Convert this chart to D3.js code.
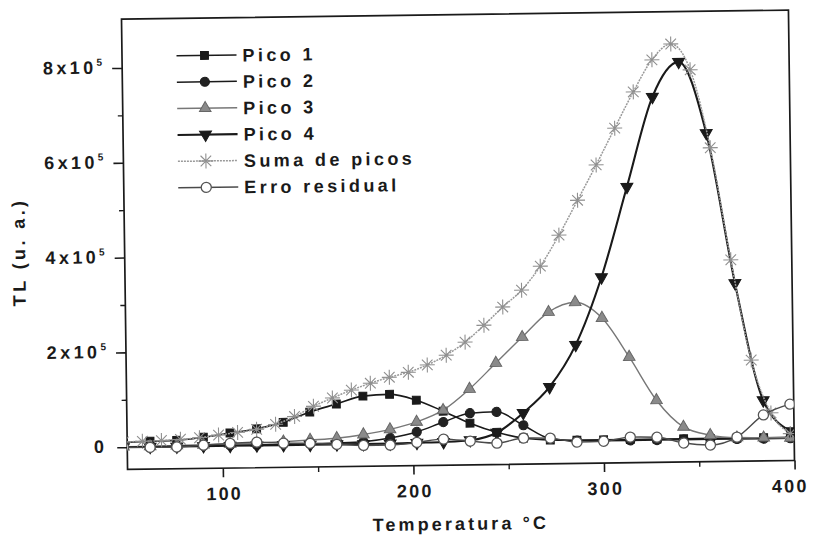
<!DOCTYPE html>
<html>
<head>
<meta charset="utf-8">
<script src="https://cdn.jsdelivr.net/npm/d3@7/dist/d3.min.js"></script>
<style>
  html, body { margin: 0; padding: 0; background: #ffffff; }
  svg { display: block; }
  text { font-family: "Liberation Sans", Arial, sans-serif; font-weight: bold; fill: #1a1a1a; }
</style>
</head>
<body>
<svg id="chart" width="814" height="536"></svg>
<script>
// ---------------- DATA ----------------
const tempPicos = [48, 62, 76, 90, 104, 118, 132, 146, 160, 174, 188, 202, 216, 230, 244, 258, 272, 286, 300, 314, 328, 342, 356, 370, 384, 398];
const pico1 = [10000, 12000, 13000, 19000, 27000, 35000, 48000, 69000, 85000, 101000, 104000, 91000, 67000, 41000, 21000, 8000, 3000, 2000, 2000, 2000, 2000, 2000, 2000, 2000, 2000, 2000];
const pico2 = [0, 0, 0, 1000, 1000, 1000, 2000, 2000, 3000, 5000, 12000, 24000, 44000, 62000, 64000, 35000, 6000, 1000, 0, 0, 0, 0, 0, 0, 0, 0];
const pico3 = [1000, 1000, 2000, 3000, 4000, 5000, 7000, 10000, 13000, 20000, 30000, 45000, 69000, 113000, 167000, 221000, 273000, 293000, 259000, 176000, 84000, 27000, 9000, 3000, 2000, 1000];
const pico4 = [0, 0, 0, 0, 0, 0, 0, 0, 0, 0, 0, 1000, 2000, 5000, 20000, 61000, 115000, 203000, 345000, 535000, 724000, 797000, 646000, 329000, 81000, 15000];
const erroResidual = [0, -1000, -1000, 2000, 5000, 7000, 4000, 3000, 0, -3000, -3000, 2000, 8000, 3000, -2000, 8000, 7000, -2000, -1000, 7000, 6000, -7000, -12000, 4000, 50000, 72000];

const tempSuma = [48, 58, 68, 78, 88, 98, 108, 118, 128, 138, 148, 158, 168, 178, 188, 198, 208, 218, 228, 238, 248, 258, 268, 278, 288, 298, 308, 318, 328, 338, 348, 358, 368, 378, 388, 398];
const somaPicos = [11000, 12000, 13000, 15000, 18000, 23000, 28000, 34000, 44000, 60000, 81000, 98000, 114000, 128000, 140000, 150000, 165000, 185000, 212000, 247000, 285000, 320000, 370000, 435000, 508000, 582000, 659000, 735000, 802000, 835000, 780000, 615000, 378000, 166000, 54000, 10000];

const seriesNames = ["Pico 1", "Pico 2", "Pico 3", "Pico 4", "Suma de picos", "Erro residual"];

const xTickValues = [100, 200, 300, 400];
const xMinorTicks = [150, 250, 350];
const yTickValues = [0, 200000, 400000, 600000, 800000];
const yTickLabels = ["0", "2x10", "4x10", "6x10", "8x10"];
const yTickExponents = ["", "5", "5", "5", "5"];
const yMinorTicks = [100000, 300000, 500000, 700000];

const xTitle = "Temperatura °C";
const yTitle = "TL (u. a.)";

// ---------------- LAYOUT ----------------
const plot = { left: 124.5, right: 791.5, top: 14.6, bottom: 465 };
const svg = d3.select("#chart");
svg.append("rect").attr("width", 814).attr("height", 536).attr("fill", "#ffffff");

// the scanned figure is slightly tilted
const root = svg.append("g").attr("transform", "rotate(-0.77, 458, 240)");

const x = d3.scaleLinear().domain([50, 400]).range([plot.left, plot.right]);
const y = d3.scaleLinear().domain([-47000, 903000]).range([plot.bottom, plot.top]);

root.append("defs").append("clipPath").attr("id", "plotClip")
  .append("rect")
  .attr("x", plot.left).attr("y", plot.top)
  .attr("width", plot.right - plot.left).attr("height", plot.bottom - plot.top);

// ---------------- AXES ----------------
const fontSize = 18, ls = 3.4, lsTick = 2.2;

const xAxis = root.append("g").attr("transform", `translate(0,${plot.bottom})`)
  .call(d3.axisBottom(x).tickValues(xTickValues).tickSize(9).tickPadding(10).tickFormat(d3.format("d")));
xAxis.select(".domain").remove();
xAxis.selectAll("line").attr("stroke", "#1a1a1a").attr("stroke-width", 1.6);
xAxis.selectAll("text").attr("font-size", fontSize).attr("letter-spacing", lsTick)
  .attr("dx", d => d === 400 ? -5 : 1)
  .style("font-family", '"Liberation Sans", Arial, sans-serif').style("font-weight", "bold").attr("fill", "#1a1a1a");

const xMinor = root.append("g").attr("transform", `translate(0,${plot.bottom})`)
  .call(d3.axisBottom(x).tickValues(xMinorTicks).tickSize(5).tickFormat(""));
xMinor.select(".domain").remove();
xMinor.selectAll("line").attr("stroke", "#1a1a1a").attr("stroke-width", 1.4);

const yAxis = root.append("g").attr("transform", `translate(${plot.left},0)`)
  .call(d3.axisLeft(y).tickValues(yTickValues).tickSize(10).tickFormat(""));
yAxis.select(".domain").remove();
yAxis.selectAll("line").attr("stroke", "#1a1a1a").attr("stroke-width", 1.6);

const yMinor = root.append("g").attr("transform", `translate(${plot.left},0)`)
  .call(d3.axisLeft(y).tickValues(yMinorTicks).tickSize(5).tickFormat(""));
yMinor.select(".domain").remove();
yMinor.selectAll("line").attr("stroke", "#1a1a1a").attr("stroke-width", 1.4);

yTickValues.forEach((v, i) => {
  const t = root.append("text")
    .attr("x", plot.left - 20)
    .attr("y", y(v) + 5.5)
    .attr("text-anchor", "end")
    .attr("font-size", fontSize)
    .attr("letter-spacing", ls);
  t.append("tspan").text(yTickLabels[i]);
  if (yTickExponents[i]) {
    t.append("tspan").attr("font-size", 10).attr("dy", -8).attr("letter-spacing", 0).text(yTickExponents[i]);
  }
});

// frame
root.append("rect")
  .attr("x", plot.left).attr("y", plot.top)
  .attr("width", plot.right - plot.left).attr("height", plot.bottom - plot.top)
  .attr("fill", "none").attr("stroke", "#1a1a1a").attr("stroke-width", 1.7);

// titles
root.append("text").attr("x", 457).attr("y", 530)
  .attr("text-anchor", "middle").attr("font-size", fontSize).attr("letter-spacing", 3.1)
  .text(xTitle);
root.append("text")
  .attr("transform", "translate(25,246) rotate(-90)")
  .attr("text-anchor", "middle").attr("font-size", fontSize).attr("letter-spacing", 3.4)
  .text(yTitle);

// ---------------- MARKERS ----------------
function starPath(r) {
  const p = d3.path();
  for (let k = 0; k < 4; k++) {
    const a = k * Math.PI / 4;
    p.moveTo(-r * Math.cos(a), -r * Math.sin(a));
    p.lineTo(r * Math.cos(a), r * Math.sin(a));
  }
  return p.toString();
}
const markers = {
  square: { d: d3.symbol().type(d3.symbolSquare).size(62)(), rot: 0 },
  circle: { d: d3.symbol().type(d3.symbolCircle).size(66)(), rot: 0 },
  triUp: { d: d3.symbol().type(d3.symbolTriangle).size(58)(), rot: 0 },
  triDown: { d: d3.symbol().type(d3.symbolTriangle).size(62)(), rot: 180 },
  star: { d: starPath(7.5), rot: 0 },
  openCircle: { d: d3.symbol().type(d3.symbolCircle).size(80)(), rot: 0 }
};

const series = [
  { name: seriesNames[0], t: tempPicos, v: pico1, line: "#1a1a1a", lw: 1.6, dash: null, marker: "square", fill: "#1a1a1a", stroke: "#1a1a1a", mw: 1 },
  { name: seriesNames[1], t: tempPicos, v: pico2, line: "#1a1a1a", lw: 1.5, dash: null, marker: "circle", fill: "#222", stroke: "#1a1a1a", mw: 1 },
  { name: seriesNames[2], t: tempPicos, v: pico3, line: "#777", lw: 1.4, dash: null, marker: "triUp", fill: "#8a8a8a", stroke: "#666", mw: 1 },
  { name: seriesNames[3], t: tempPicos, v: pico4, line: "#1a1a1a", lw: 2.1, dash: null, marker: "triDown", fill: "#1a1a1a", stroke: "#1a1a1a", mw: 1 },
  { name: seriesNames[4], t: tempSuma, v: somaPicos, line: "#9a9a9a", lw: 1.5, dash: "2,1", marker: "star", fill: "none", stroke: "#8f8f8f", mw: 1.1 },
  { name: seriesNames[5], t: tempPicos, v: erroResidual, line: "#4a4a4a", lw: 1.4, dash: null, marker: "openCircle", fill: "#ffffff", stroke: "#555", mw: 1.3 }
];

const plotArea = root.append("g").attr("clip-path", "url(#plotClip)");
const lineGen = d3.line().curve(d3.curveMonotoneX);

series.forEach(s => {
  const pts = s.t.map((t, i) => [x(t), y(s.v[i])]);
  const g = plotArea.append("g");
  g.append("path")
    .attr("d", lineGen(pts))
    .attr("fill", "none")
    .attr("stroke", s.line)
    .attr("stroke-width", s.lw)
    .attr("stroke-dasharray", s.dash);
  const m = markers[s.marker];
  g.selectAll("path.mk").data(pts).enter().append("path")
    .attr("class", "mk")
    .attr("d", m.d)
    .attr("transform", p => `translate(${p[0]},${p[1]}) rotate(${m.rot})`)
    .attr("fill", s.fill)
    .attr("stroke", s.stroke)
    .attr("stroke-width", s.mw);
});

// ---------------- LEGEND ----------------
const legend = root.append("g");
const legX0 = 179, legX1 = 239, legMk = 207, legText = 245, legY0 = 52, legDy = 26.4;
series.forEach((s, i) => {
  const yy = legY0 + i * legDy;
  legend.append("line")
    .attr("x1", legX0).attr("x2", legX1).attr("y1", yy).attr("y2", yy)
    .attr("stroke", s.line).attr("stroke-width", s.lw).attr("stroke-dasharray", s.dash);
  const m = markers[s.marker];
  legend.append("path")
    .attr("d", m.d)
    .attr("transform", `translate(${legMk},${yy}) rotate(${m.rot})`)
    .attr("fill", s.fill).attr("stroke", s.stroke).attr("stroke-width", s.mw);
  legend.append("text")
    .attr("x", legText).attr("y", yy + 6.5)
    .attr("font-size", fontSize).attr("letter-spacing", ls)
    .text(s.name);
});
</script>
</body>
</html>
